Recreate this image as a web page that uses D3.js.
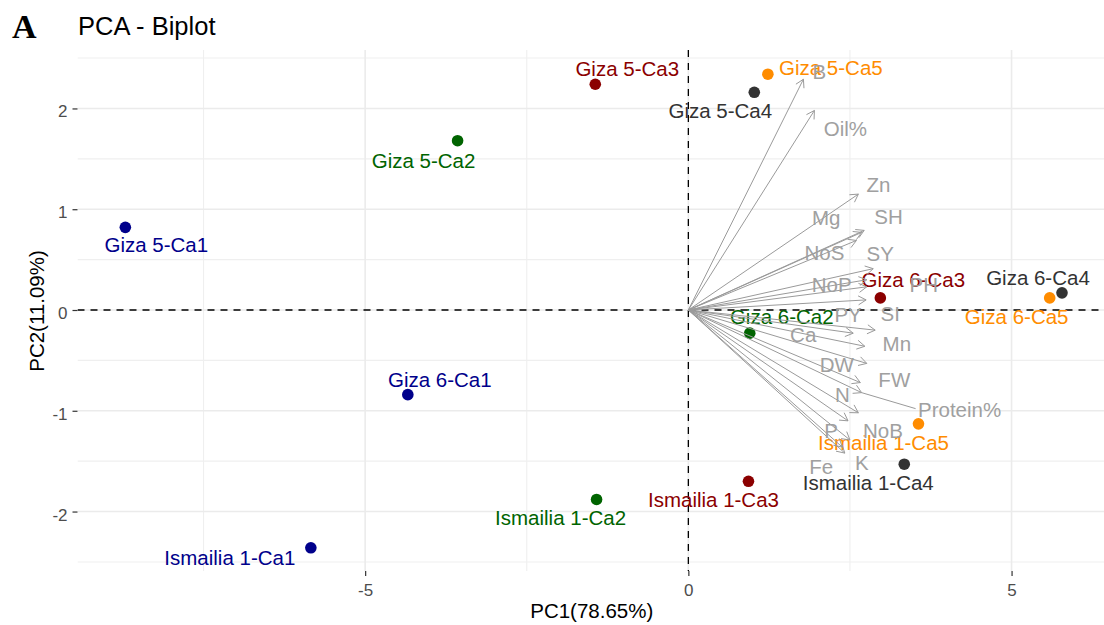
<!DOCTYPE html>
<html>
<head>
<meta charset="utf-8">
<script src="https://cdn.jsdelivr.net/npm/d3@7"></script>
<style>
  html, body { margin: 0; padding: 0; background: #ffffff; }
  svg { display: block; }
</style>
</head>
<body>
<svg id="chart" width="1104" height="625"></svg>
<script>
// ---------------- data ----------------
const sampleNames = [
  "Giza 5-Ca1", "Giza 6-Ca1", "Ismailia 1-Ca1",
  "Giza 5-Ca2", "Giza 6-Ca2", "Ismailia 1-Ca2",
  "Giza 5-Ca3", "Giza 6-Ca3", "Ismailia 1-Ca3",
  "Giza 5-Ca4", "Giza 6-Ca4", "Ismailia 1-Ca4",
  "Giza 5-Ca5", "Giza 6-Ca5", "Ismailia 1-Ca5"
];
const sampleGroups = [
  "Ca1", "Ca1", "Ca1",
  "Ca2", "Ca2", "Ca2",
  "Ca3", "Ca3", "Ca3",
  "Ca4", "Ca4", "Ca4",
  "Ca5", "Ca5", "Ca5"
];
const samplePC1 = [-8.71, -4.34, -5.84, -3.57, 0.95, -1.42, -1.44, 2.97, 0.93, 1.02, 5.78, 3.34, 1.23, 5.59, 3.56];
const samplePC2 = [0.82, -0.84, -2.36, 1.68, -0.23, -1.88, 2.24, 0.12, -1.70, 2.16, 0.17, -1.53, 2.34, 0.12, -1.13];

const groupNames = ["Ca1", "Ca2", "Ca3", "Ca4", "Ca5"];

const varNames = ["B", "Oil%", "Zn", "Mg", "SH", "NoS", "SY", "NoP", "PH", "PY", "SI",
                  "Ca", "Mn", "DW", "FW", "Protein%", "N", "P", "NoB", "K", "Fe"];
const varPC1 = [1.78, 1.95, 2.63, 2.72, 2.68, 2.60, 2.86, 2.76, 2.76, 2.75, 2.89,
                2.55, 2.73, 2.76, 2.66, 2.68, 2.63, 2.47, 2.50, 2.42, 2.38];
const varPC2 = [2.29, 1.98, 1.15, 0.79, 0.77, 0.69, 0.41, 0.30, 0.23, 0.10, -0.20,
                -0.23, -0.36, -0.53, -0.72, -0.82, -1.02, -1.10, -1.29, -1.42, -1.36];

const xTicks = [-5, 0, 5];
const yTicks = [-2, -1, 0, 1, 2];
const xMinor = [-7.5, -2.5, 2.5];
const yMinor = [-2.5, -1.5, -0.5, 0.5, 1.5, 2.5];

const chartTitle = "PCA - Biplot";
const panelTag = "A";
const xTitle = "PC1(78.65%)";
const yTitle = "PC2(11.09%)";

// ---------------- layout / style ----------------
const groupColors = ["#00008B", "#006400", "#8B0000", "#333333", "#FF8C00"];
// label offsets (pixels, from point to label centre-baseline), as placed by repel
const sampleLabelOffsets = [
  [31, 25], [32, -8], [-81, 17],
  [-34, 27], [32, -9], [-36, 26],
  [32, -8], [33, -11], [-35, 26],
  [-34, 26], [-24, -8], [-36, 26],
  [63, 1], [-33, 26], [-35, 26]
];
const varLabelOffsets = [
  [16, 0], [31, 26], [20, -2], [-38, -5], [27, -8], [-32, 20], [7, -8], [-35, 12], [57, 5],
  [-18, 22], [15, -9], [-50, 9], [32, 5], [-30, 9], [34, 4], [98, 24], [-16, -11],
  [-17, 17], [33, -2], [17, 17], [-21, 27]
];

const panel = { left: 77.5, right: 1104, top: 50, bottom: 571 };
const FONT = "'Liberation Sans', Arial, Helvetica, sans-serif";
const varColor = "#a0a0a0";

const svg = d3.select("#chart");

const x = d3.scaleLinear().domain([-9.45, 6.43]).range([panel.left, panel.right]);
const y = d3.scaleLinear().domain([-2.59, 2.58]).range([panel.bottom, panel.top]);

// clip
svg.append("defs").append("clipPath").attr("id", "clip")
  .append("rect")
  .attr("x", panel.left).attr("y", panel.top)
  .attr("width", panel.right - panel.left).attr("height", panel.bottom - panel.top);

// grid
const grid = svg.append("g").attr("clip-path", "url(#clip)");
grid.selectAll(".xminor").data(xMinor).enter().append("line")
  .attr("x1", d => x(d)).attr("x2", d => x(d))
  .attr("y1", panel.top).attr("y2", panel.bottom)
  .attr("stroke", "#efefef").attr("stroke-width", 1.1);
grid.selectAll(".yminor").data(yMinor).enter().append("line")
  .attr("y1", d => y(d)).attr("y2", d => y(d))
  .attr("x1", panel.left).attr("x2", panel.right)
  .attr("stroke", "#efefef").attr("stroke-width", 1.1);
grid.selectAll(".xmajor").data(xTicks).enter().append("line")
  .attr("x1", d => x(d)).attr("x2", d => x(d))
  .attr("y1", panel.top).attr("y2", panel.bottom)
  .attr("stroke", "#ebebeb").attr("stroke-width", 1.6);
grid.selectAll(".ymajor").data(yTicks).enter().append("line")
  .attr("y1", d => y(d)).attr("y2", d => y(d))
  .attr("x1", panel.left).attr("x2", panel.right)
  .attr("stroke", "#ebebeb").attr("stroke-width", 1.6);

// axes
const xAxis = d3.axisBottom(x).tickValues(xTicks).tickSize(5).tickPadding(8).tickFormat(d3.format("d"));
const yAxis = d3.axisLeft(y).tickValues(yTicks).tickSize(5).tickPadding(5).tickFormat(d3.format("d"));

const gx = svg.append("g").attr("transform", `translate(0,${panel.bottom})`).call(xAxis);
const gy = svg.append("g").attr("transform", `translate(${panel.left},0)`).call(yAxis);
[gx, gy].forEach(g => {
  g.select(".domain").remove();
  g.selectAll(".tick line").attr("stroke", "#333333").attr("stroke-width", 1.2);
  g.selectAll(".tick text")
    .attr("fill", "#4d4d4d")
    .style("font-family", FONT)
    .style("font-size", "17px");
});
gx.selectAll(".tick text").text(d => d < 0 ? "-" + Math.abs(d) : d);
gy.selectAll(".tick text").attr("dy", "0.5em").text(d => d < 0 ? "-" + Math.abs(d) : d);

// zero lines
const zero = svg.append("g").attr("clip-path", "url(#clip)");
zero.append("line")
  .attr("x1", panel.left).attr("x2", panel.right)
  .attr("y1", y(0)).attr("y2", y(0))
  .attr("stroke", "#000").attr("stroke-width", 1.3).attr("stroke-dasharray", "7,6");
zero.append("line")
  .attr("x1", x(0)).attr("x2", x(0))
  .attr("y1", panel.top).attr("y2", panel.bottom)
  .attr("stroke", "#000").attr("stroke-width", 1.3).attr("stroke-dasharray", "7,6");

const colorOf = d3.scaleOrdinal().domain(groupNames).range(groupColors);

// individuals
const samples = sampleNames.map((n, i) => ({
  name: n, group: sampleGroups[i], pc1: samplePC1[i], pc2: samplePC2[i], off: sampleLabelOffsets[i]
}));

const ind = svg.append("g");
ind.selectAll("circle").data(samples).enter().append("circle")
  .attr("cx", d => x(d.pc1)).attr("cy", d => y(d.pc2))
  .attr("r", 5.8)
  .attr("fill", d => colorOf(d.group));
ind.selectAll("text").data(samples).enter().append("text")
  .attr("x", d => x(d.pc1) + d.off[0])
  .attr("y", d => y(d.pc2) + d.off[1])
  .attr("text-anchor", "middle")
  .attr("fill", d => colorOf(d.group))
  .style("font-family", FONT)
  .style("font-size", "20.5px")
  .text(d => d.name);

// variables
const vars = varNames.map((n, i) => ({ name: n, pc1: varPC1[i], pc2: varPC2[i], off: varLabelOffsets[i] }));
const vg = svg.append("g");
const headLen = 9, headAng = Math.PI / 6;
vars.forEach(v => {
  const x0 = x(0), y0 = y(0), x1 = x(v.pc1), y1 = y(v.pc2);
  const ang = Math.atan2(y1 - y0, x1 - x0);
  const path = d3.path();
  path.moveTo(x0, y0); path.lineTo(x1, y1);
  path.moveTo(x1 - headLen * Math.cos(ang - headAng), y1 - headLen * Math.sin(ang - headAng));
  path.lineTo(x1, y1);
  path.lineTo(x1 - headLen * Math.cos(ang + headAng), y1 - headLen * Math.sin(ang + headAng));
  vg.append("path").attr("d", path.toString())
    .attr("fill", "none").attr("stroke", "#9a9a9a").attr("stroke-width", 1);
});
// repel segment for the displaced label
vars.filter(v => v.name === "Protein%").forEach(v => {
  vg.append("line")
    .attr("x1", x(v.pc1)).attr("y1", y(v.pc2))
    .attr("x2", x(v.pc1) + v.off[0] - 44).attr("y2", y(v.pc2) + v.off[1] - 8)
    .attr("stroke", "#9a9a9a").attr("stroke-width", 1);
});
vg.selectAll("text").data(vars).enter().append("text")
  .attr("x", d => x(d.pc1) + d.off[0])
  .attr("y", d => y(d.pc2) + d.off[1])
  .attr("text-anchor", "middle")
  .attr("fill", varColor)
  .style("font-family", FONT)
  .style("font-size", "20.5px")
  .text(d => d.name);

// titles
svg.append("text")
  .attr("x", 12).attr("y", 38)
  .style("font-family", "'Liberation Serif', 'Times New Roman', serif")
  .style("font-weight", "bold")
  .style("font-size", "34px")
  .attr("fill", "#000")
  .text(panelTag);
svg.append("text")
  .attr("x", 78).attr("y", 35)
  .style("font-family", FONT)
  .style("font-size", "25.5px")
  .attr("fill", "#000")
  .text(chartTitle);
svg.append("text")
  .attr("x", (panel.left + panel.right) / 2 + 1).attr("y", 618)
  .attr("text-anchor", "middle")
  .style("font-family", FONT)
  .style("font-size", "20.5px")
  .attr("fill", "#000")
  .text(xTitle);
svg.append("text")
  .attr("transform", `translate(44,${y(0) + 1}) rotate(-90)`)
  .attr("text-anchor", "middle")
  .style("font-family", FONT)
  .style("font-size", "20.5px")
  .attr("fill", "#000")
  .text(yTitle);
</script>
</body>
</html>
